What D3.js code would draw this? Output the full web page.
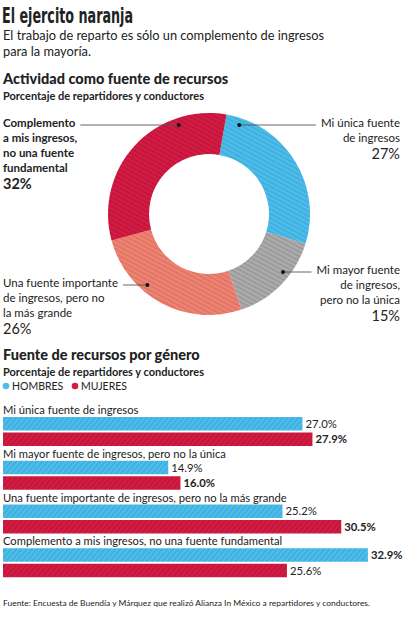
<!DOCTYPE html>
<html>
<head>
<meta charset="utf-8">
<script src="https://cdn.jsdelivr.net/npm/d3@7"></script>
<style>
  body { margin: 0; background: #fff; }
  svg text { fill: #222; font-family: Lato, "Open Sans", sans-serif; }
</style>
</head>
<body>
<div id="chart"></div>
<script>
// data
const pieCategories = ["Mi única fuente de ingresos", "Mi mayor fuente de ingresos, pero no la única",
  "Una fuente importante de ingresos, pero no la más grande", "Complemento a mis ingresos, no una fuente fundamental"];
const pieValues = [27, 15, 26, 32];
const pieLabelLines = [
  ["Mi única fuente", "de ingresos"],
  ["Mi mayor fuente", "de ingresos,", "pero no la única"],
  ["Una fuente importante", "de ingresos, pero no", "la más grande"],
  ["Complemento", "a mis ingresos,", "no una fuente", "fundamental"]
];
const barCategories = pieCategories;
const series = ["HOMBRES", "MUJERES"];
const hombres = [27.0, 14.9, 25.2, 32.9];
const mujeres = [27.9, 16.0, 30.5, 25.6];

const width = 403, height = 620;
const COLORS = {
  blue: ['#4DBDEA', '#36A5D6'],
  gray: ['#ADADAD', '#8C8C8C'],
  salmon: ['#EE8474', '#D8695B'],
  red: ['#D51B43', '#B21235']
};
const pieColorKeys = ['blue', 'gray', 'salmon', 'red'];

const svg = d3.select('#chart').append('svg')
  .attr('width', width)
  .attr('height', height);

// hatch patterns
const defs = svg.append('defs');
function addPattern(id, key, angle) {
  const p = defs.append('pattern')
    .attr('id', id)
    .attr('patternUnits', 'userSpaceOnUse')
    .attr('width', 4).attr('height', 4)
    .attr('patternTransform', 'rotate(' + angle + ')');
  p.append('rect').attr('width', 4).attr('height', 4).attr('fill', COLORS[key][0]);
  p.append('line').attr('x1', 1).attr('y1', 0).attr('x2', 1).attr('y2', 4)
    .attr('stroke', COLORS[key][1]).attr('stroke-width', 1.1);
}
pieColorKeys.forEach(k => addPattern('pie-' + k, k, -62));
['blue', 'red'].forEach(k => addPattern('bar-' + k, k, 40));

// headings
svg.append('text')
  .attr('x', 2).attr('y', 23)
  .attr('textLength', 131).attr('lengthAdjust', 'spacingAndGlyphs')
  .style('font-family', '"Liberation Sans Narrow", "DejaVu Sans Condensed", sans-serif')
  .style('font-size', '21px').style('font-weight', 'bold')
  .text('El ejercito naranja');

svg.append('text').attr('x', 3).attr('y', 40)
  .style('font-size', '12.8px')
  .text('El trabajo de reparto es sólo un complemento de ingresos');
svg.append('text').attr('x', 3).attr('y', 56)
  .style('font-size', '12.8px')
  .text('para la mayoría.');

function sectionTitle(y, title) {
  svg.append('text').attr('x', 3).attr('y', y)
    .style('font-size', '14.5px').style('font-weight', '900')
    .text(title);
  svg.append('text').attr('x', 3).attr('y', y + 16)
    .style('font-size', '11px').style('font-weight', 'bold')
    .text('Porcentaje de repartidores y conductores');
}
sectionTitle(84, 'Actividad como fuente de recursos');

// donut
const cx = 209, cy = 214, outerR = 101, innerR = 60, dotR = 94;
const offset = 10 * Math.PI / 180;
const pie = d3.pie().sort(null).startAngle(offset).endAngle(offset + 2 * Math.PI);
const arc = d3.arc().innerRadius(innerR).outerRadius(outerR);

const donut = svg.append('g').attr('transform', 'translate(' + cx + ',' + cy + ')');
donut.selectAll('path')
  .data(pie(pieValues))
  .enter().append('path')
  .attr('d', arc)
  .attr('fill', (d, i) => 'url(#pie-' + pieColorKeys[i] + ')');

// donut labels: side, first baseline y, bold
const labelPos = [
  { side: 'right', y: 127, bold: false },
  { side: 'right', y: 274, bold: false },
  { side: 'left', y: 287, bold: false },
  { side: 'left', y: 127, bold: true }
];
const lineH = 15;
labelPos.forEach((p, i) => {
  const lines = pieLabelLines[i];
  const right = p.side === 'right';
  const x = right ? 400 : 3;
  const t = svg.append('text')
    .attr('text-anchor', right ? 'end' : 'start')
    .style('font-size', '11.5px')
    .style('font-weight', p.bold ? 'bold' : 'normal');
  lines.forEach((l, j) => {
    t.append('tspan').attr('x', x).attr('y', p.y + j * lineH).text(l);
  });
  svg.append('text')
    .attr('x', x).attr('y', p.y + lines.length * lineH + 1.5)
    .attr('text-anchor', right ? 'end' : 'start')
    .style('font-size', '14.5px')
    .style('font-weight', p.bold ? 'bold' : 'normal')
    .text(pieValues[i] + '%');

  // leader line from first line of the label to a dot on the ring
  const firstW = t.select('tspan').node().getComputedTextLength();
  const ly = p.y - 2;
  const dy = ly - cy;
  const dx = Math.sqrt(dotR * dotR - dy * dy);
  const dotX = right ? cx + dx : cx - dx;
  const lineStart = right ? x - firstW - 5 : x + firstW + 5;
  svg.append('line')
    .attr('x1', lineStart).attr('x2', dotX)
    .attr('y1', ly).attr('y2', ly)
    .attr('stroke', '#555').attr('stroke-width', 0.9);
  svg.append('circle').attr('cx', dotX).attr('cy', ly).attr('r', 2)
    .attr('fill', '#111');
});

// bars
sectionTitle(360, 'Fuente de recursos por género');

const legendX = [6, 75];
series.forEach((s, i) => {
  svg.append('circle').attr('cx', legendX[i]).attr('cy', 386).attr('r', 3.3)
    .attr('fill', i === 0 ? COLORS.blue[0] : COLORS.red[0]);
  svg.append('text').attr('x', legendX[i] + 6).attr('y', 390)
    .style('font-size', '10.5px')
    .text(s);
});

const x = d3.scaleLinear().domain([0, 33]).range([3, 369]);
const groupY = d3.scaleBand().domain(barCategories).range([402, 577]).paddingInner(0).paddingOuter(0);
const barH = 13.5, labelH = 14, barGap = 2;

const groups = svg.append('g').selectAll('g')
  .data(barCategories)
  .enter().append('g')
  .attr('transform', d => 'translate(0,' + groupY(d) + ')');

groups.append('text')
  .attr('x', 3).attr('y', labelH - 2)
  .style('font-size', '11.2px')
  .text(d => d);

const barData = (d, i) => [
  { key: 'blue', v: hombres[i], bold: hombres[i] > mujeres[i] },
  { key: 'red', v: mujeres[i], bold: mujeres[i] > hombres[i] }
];

const bars = groups.selectAll('g.bar')
  .data(barData)
  .enter().append('g')
  .attr('class', 'bar')
  .attr('transform', (d, j) => 'translate(0,' + (labelH + 1 + j * (barH + barGap)) + ')');

bars.append('rect')
  .attr('x', x(0))
  .attr('width', d => x(d.v) - x(0))
  .attr('height', barH)
  .attr('fill', d => 'url(#bar-' + d.key + ')');

bars.append('text')
  .attr('x', d => x(d.v) + 3)
  .attr('y', barH / 2 + 4)
  .style('font-size', '11.3px')
  .style('font-weight', d => d.bold ? 'bold' : 'normal')
  .text(d => d.v.toFixed(1) + '%');

// source
svg.append('text').attr('x', 3).attr('y', 606)
  .attr('textLength', 367).attr('lengthAdjust', 'spacingAndGlyphs')
  .style('font-size', '8px')
  .text('Fuente: Encuesta de Buendía y Márquez que realizó Alianza In México a repartidores y conductores.');
</script>
</body>
</html>
